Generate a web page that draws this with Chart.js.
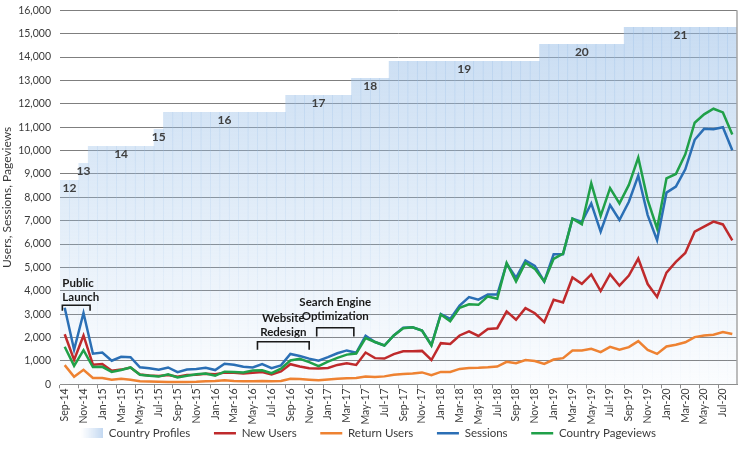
<!DOCTYPE html>
<html>
<head>
<meta charset="utf-8">
<script src="https://cdn.jsdelivr.net/npm/chart.js@4"></script>
<style>
  html, body { margin: 0; padding: 0; background: #fff; }
  #wrap { width: 745px; height: 449px; position: relative; }
</style>
</head>
<body>
<div id="wrap"><canvas id="usageChart"></canvas></div>
<script>
const months = [
  'Sep-14','Oct-14','Nov-14','Dec-14',
  'Jan-15','Feb-15','Mar-15','Apr-15','May-15','Jun-15','Jul-15','Aug-15','Sep-15','Oct-15','Nov-15','Dec-15',
  'Jan-16','Feb-16','Mar-16','Apr-16','May-16','Jun-16','Jul-16','Aug-16','Sep-16','Oct-16','Nov-16','Dec-16',
  'Jan-17','Feb-17','Mar-17','Apr-17','May-17','Jun-17','Jul-17','Aug-17','Sep-17','Oct-17','Nov-17','Dec-17',
  'Jan-18','Feb-18','Mar-18','Apr-18','May-18','Jun-18','Jul-18','Aug-18','Sep-18','Oct-18','Nov-18','Dec-18',
  'Jan-19','Feb-19','Mar-19','Apr-19','May-19','Jun-19','Jul-19','Aug-19','Sep-19','Oct-19','Nov-19','Dec-19',
  'Jan-20','Feb-20','Mar-20','Apr-20','May-20','Jun-20','Jul-20','Aug-20'
];

// number of country profiles online each month
const countryProfiles = [
  12, 12, 13, 14,
  14, 14, 14, 14, 14, 14, 15, 16, 16, 16, 16, 16,
  16, 16, 16, 16, 16, 16, 16, 16, 17, 17, 17, 17,
  17, 17, 17, 18, 18, 18, 18, 19, 19, 19, 19, 19,
  19, 19, 19, 19, 19, 19, 19, 19, 19, 19, 19, 20,
  20, 20, 20, 20, 20, 20, 20, 20, 21, 21, 21, 21,
  21, 21, 21, 21, 21, 21, 21, 21
];

const newUsers = [
  2140, 1040, 2090, 840,
  870, 580, 630, 720, 420, 380, 360, 400, 320, 400, 410, 450,
  430, 500, 490, 460, 490, 530, 420, 550, 860, 760, 690, 680,
  700, 830, 900, 830, 1360, 1120, 1100, 1290, 1410, 1410, 1430, 1040,
  1760, 1730, 2090, 2270, 2070, 2370, 2400, 3120, 2760, 3260, 3040, 2660,
  3620, 3500, 4570, 4300, 4700, 3990, 4710, 4220, 4650, 5380, 4290, 3740,
  4780, 5240, 5620, 6530, 6750, 6960, 6840, 6160
];

const returnUsers = [
  820, 320, 620, 270,
  270, 200, 240, 200, 130, 120, 110, 100, 100, 100, 110, 130,
  140, 170, 140, 130, 130, 140, 130, 140, 240, 230, 200, 170,
  210, 240, 260, 270, 330, 310, 340, 410, 440, 460, 510, 390,
  530, 530, 660, 700, 710, 730, 760, 960, 900, 1040, 1000, 870,
  1060, 1120, 1450, 1450, 1520, 1380, 1600, 1480, 1590, 1850, 1470, 1300,
  1620, 1690, 1800, 2020, 2090, 2120, 2240, 2150
];

const sessions = [
  3280, 1480, 3050, 1310,
  1360, 1010, 1180, 1160, 730, 690, 620, 720, 520, 630, 660, 710,
  610, 880, 840, 750, 720, 870, 690, 810, 1300, 1210, 1100, 1010,
  1160, 1330, 1450, 1350, 2080, 1810, 1660, 2090, 2420, 2440, 2300, 1680,
  3010, 2800, 3370, 3730, 3620, 3840, 3840, 5160, 4560, 5300, 5060, 4400,
  5560, 5560, 7090, 6950, 7740, 6530, 7670, 7030, 7810, 8930, 7240, 6170,
  8200, 8460, 9200, 10460, 10930, 10910, 11000, 10010
];

const pageviews = [
  1610, 790, 1460, 740,
  750, 530, 610, 720, 410, 370, 330, 430, 290, 370, 430, 460,
  370, 540, 530, 510, 590, 600, 480, 670, 1020, 1090, 950, 780,
  970, 1130, 1270, 1320, 1980, 1810, 1660, 2090, 2400, 2440, 2300, 1660,
  2990, 2700, 3270, 3420, 3400, 3760, 3660, 5190, 4400, 5200, 4940, 4400,
  5370, 5590, 7090, 6850, 8600, 7210, 8390, 7740, 8530, 9700, 7890, 6670,
  8810, 9000, 9840, 11190, 11550, 11790, 11630, 10690
];

// milestone notes: text lines, bracket span (month index) and heights on the y axis
const notes = [
  { lines: ['Public', 'Launch'], from: -0.25, to: 2.7, textY: [4310, 3710], barY: 3380, legY: 3150, align: 'left' },
  { lines: ['Website', 'Redesign'], from: 20.5, to: 26.0, textY: [2810, 2220], barY: 1820, legY: 1480, align: 'center' },
  { lines: ['Search Engine', 'Optimization'], from: 26.8, to: 30.75, textY: [3510, 2900], barY: 2420, legY: 2050, align: 'center' }
];

const FONT = "Lato, 'Open Sans', sans-serif";
const TEXT = '#3a3a3a';

let barGradient = null;
function profileFill(ctx) {
  const area = ctx.chart.chartArea;
  if (!area) return 'rgba(180,205,235,0.5)';
  if (!barGradient) {
    barGradient = ctx.chart.ctx.createLinearGradient(0, area.top, 0, area.bottom);
    barGradient.addColorStop(0, 'rgba(150,188,230,0.55)');
    barGradient.addColorStop(0.6, 'rgba(160,196,234,0.28)');
    barGradient.addColorStop(1, 'rgba(175,205,238,0.05)');
  }
  return barGradient;
}

// small swatch for the legend
const swatch = document.createElement('canvas');
swatch.width = 22; swatch.height = 10;
(function () {
  const s = swatch.getContext('2d');
  const g = s.createLinearGradient(0, 0, 22, 0);
  g.addColorStop(0, 'rgba(200,220,243,0)');
  g.addColorStop(1, 'rgba(195,216,241,1)');
  s.fillStyle = g;
  s.fillRect(0, 0, 22, 10);
})();

const extras = {
  id: 'extras',
  afterDatasetsDraw(chart) {
    const { ctx, chartArea } = chart;
    const x = chart.scales.x, y = chart.scales.y, y2 = chart.scales.y2;
    ctx.save();

    // right frame line
    ctx.strokeStyle = '#a6a6a6';
    ctx.lineWidth = 1.5;
    ctx.beginPath();
    ctx.moveTo(chartArea.right, chartArea.top);
    ctx.lineTo(chartArea.right, chartArea.bottom);
    ctx.stroke();

    // profile count labels on each step
    ctx.font = 'bold 12px ' + FONT;
    ctx.fillStyle = '#404040';
    ctx.textAlign = 'center';
    ctx.textBaseline = 'middle';
    let start = 0;
    for (let i = 1; i <= countryProfiles.length; i++) {
      if (i === countryProfiles.length || countryProfiles[i] !== countryProfiles[start]) {
        const cx = (x.getPixelForValue(start) + x.getPixelForValue(i - 1)) / 2;
        const top = y2.getPixelForValue(countryProfiles[start]);
        ctx.fillText(String(countryProfiles[start]), cx, top + 8);
        start = i;
      }
    }

    // milestone notes
    ctx.font = 'bold 11.5px ' + FONT;
    ctx.fillStyle = '#1a1a1a';
    ctx.strokeStyle = '#1a1a1a';
    ctx.lineWidth = 1.6;
    notes.forEach(n => {
      const x0 = x.getPixelForValue(n.from), x1 = x.getPixelForValue(n.to);
      ctx.textAlign = n.align;
      const tx = n.align === 'left' ? x0 : (x0 + x1) / 2;
      n.lines.forEach((t, k) => ctx.fillText(t, tx, y.getPixelForValue(n.textY[k])));
      const by = y.getPixelForValue(n.barY), ly = y.getPixelForValue(n.legY);
      ctx.beginPath();
      ctx.moveTo(x0, ly);
      ctx.lineTo(x0, by);
      ctx.lineTo(x1, by);
      ctx.lineTo(x1, ly);
      ctx.stroke();
    });
    ctx.restore();
  }
};

const lineDefaults = { type: 'line', borderWidth: 2.5, pointRadius: 0, pointStyle: 'line', tension: 0, fill: false };

new Chart(document.getElementById('usageChart'), {
  data: {
    labels: months,
    datasets: [
      {
        type: 'bar', label: 'Country Profiles', data: countryProfiles, yAxisID: 'y2',
        backgroundColor: profileFill, barPercentage: 1, categoryPercentage: 1, order: 4
      },
      { ...lineDefaults, label: 'New Users', data: newUsers, borderColor: '#bf2a2c', backgroundColor: '#bf2a2c', order: 1 },
      { ...lineDefaults, label: 'Return Users', data: returnUsers, borderColor: '#ee8232', backgroundColor: '#ee8232', order: 3 },
      { ...lineDefaults, label: 'Sessions', data: sessions, borderColor: '#2b6fb5', backgroundColor: '#2b6fb5', order: 2 },
      { ...lineDefaults, label: 'Country Pageviews', data: pageviews, borderColor: '#20a049', backgroundColor: '#20a049', order: 0 }
    ]
  },
  options: {
    responsive: true,
    maintainAspectRatio: false,
    animation: false,
    layout: { padding: { top: 0, right: 8, left: 0, bottom: 0 } },
    plugins: {
      tooltip: { enabled: false },
      legend: {
        position: 'bottom',
        labels: {
          usePointStyle: true,
          pointStyleWidth: 22,
          boxHeight: 10,
          padding: 3,
          color: TEXT,
          font: { family: FONT, size: 11.5 },
          sort: (a, b) => a.datasetIndex - b.datasetIndex,
          generateLabels(chart) {
            const items = Chart.defaults.plugins.legend.labels.generateLabels(chart);
            items.forEach(it => {
              if (it.datasetIndex === 0) it.pointStyle = swatch;
              if (it.datasetIndex !== 4) it.text += '       ';
            });
            return items;
          }
        }
      }
    },
    scales: {
      x: {
        offset: true,
        grid: {
          offset: true,
          drawOnChartArea: false,
          tickLength: 4,
          color: c => (c.index % 2 === 0 ? '#8c8c8c' : 'rgba(0,0,0,0)')
        },
        border: { display: true, color: '#8c8c8c', width: 1 },
        ticks: {
          autoSkip: false,
          minRotation: 90,
          maxRotation: 90,
          padding: 0,
          color: TEXT,
          font: { family: FONT, size: 10.5 },
          callback: (v, i) => (i % 2 === 0 ? months[i] : '')
        }
      },
      y: {
        min: 0,
        max: 16000,
        afterFit: s => { s.width = 60; },
        grid: { color: '#7f7f7f', drawTicks: true, tickLength: 5, tickColor: 'rgba(0,0,0,0)', lineWidth: 1 },
        border: { display: false },
        ticks: {
          stepSize: 1000,
          padding: 4,
          color: TEXT,
          font: { family: FONT, size: 10.5 },
          callback: v => v.toLocaleString('en-US')
        },
        title: {
          display: true,
          text: 'Users, Sessions, Pageviews',
          color: TEXT,
          padding: { top: 0, bottom: 4 },
          font: { family: FONT, size: 12 }
        }
      },
      y2: {
        display: false,
        min: 0,
        max: 22
      }
    }
  },
  plugins: [extras]
});
</script>
</body>
</html>
